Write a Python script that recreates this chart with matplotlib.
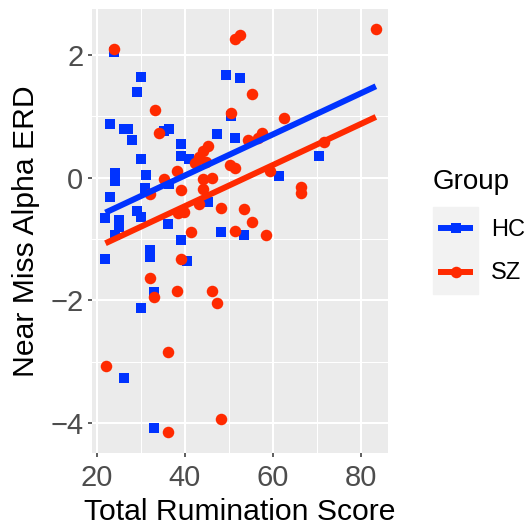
import numpy as np
import matplotlib
matplotlib.use("Agg")
import matplotlib.pyplot as plt
from matplotlib.lines import Line2D
from matplotlib.patches import Rectangle

plt.rcParams['font.family'] = ['Liberation Sans', 'DejaVu Sans']

# healthy controls (HC)
hc_x = [24.0, 30.1, 29.1, 23.1, 26.1, 27.2, 28.1, 35.2, 36.3, 39.2,
        39.1, 41.0, 30.1, 49.3, 52.4, 50.4, 47.3, 51.4, 24.1, 24.1,
        31.2, 36.3, 31.0, 23.1, 29.1, 30.1, 21.9, 25.1, 25.1, 36.1,
        24.1, 39.1, 21.9, 32.1, 32.1, 40.4, 33.1, 30.1, 26.1, 33.1,
        45.3, 48.3, 53.4, 61.4, 70.5]
hc_y = [2.05, 1.64, 1.40, 0.87, 0.79, 0.79, 0.62, 0.76, 0.79, 0.55,
        0.35, 0.31, 0.31, 1.67, 1.62, 1.01, 0.71, 0.64, 0.07, -0.06,
        0.04, -0.11, -0.17, -0.31, -0.55, -0.64, -0.66, -0.69, -0.80, -0.76,
        -0.94, -1.02, -1.32, -1.18, -1.29, -1.36, -1.87, -2.13, -3.27, -4.08,
        -0.40, -0.88, -0.94, 0.02, 0.36]

# schizophrenia (SZ)
sz_x = [24.0, 33.2, 34.2, 51.4, 52.4, 55.3, 50.4, 62.4, 54.4, 57.4,
        56.6, 45.2, 44.2, 43.3, 42.4, 44.9, 50.2, 51.3, 38.2, 35.2,
        39.2, 32.1, 44.2, 46.2, 44.2, 59.4, 43.2, 48.3, 53.3, 55.3,
        41.4, 51.4, 58.5, 38.5, 39.7, 39.1, 32.1, 38.2, 33.1, 46.2,
        47.2, 36.1, 22.1, 36.1, 48.3, 83.3, 71.5, 66.4, 66.4]
sz_y = [2.09, 1.11, 0.73, 2.26, 2.33, 1.36, 1.05, 0.98, 0.61, 0.73,
        0.64, 0.52, 0.43, 0.34, 0.24, 0.25, 0.21, 0.15, 0.11, -0.03,
        -0.20, -0.26, -0.02, -0.01, -0.18, 0.11, -0.43, -0.49, -0.51, -0.73,
        -0.89, -0.87, -0.94, -0.57, -0.56, -1.33, -1.63, -1.85, -1.94, -1.85,
        -2.04, -2.84, -3.07, -4.15, -3.94, 2.42, 0.58, -0.16, -0.25]

# fitted regression lines
fit_x = [22.0, 83.3]
hc_fit = [-0.57, 1.49]
sz_fit = [-1.07, 0.99]

groups = ['HC', 'SZ']
blue = '#0033FF'
red = '#FF2A00'

fig = plt.figure(figsize=(5.27, 5.29), dpi=100)
W, H = 527, 529
ax = fig.add_axes([92/W, 1-453/H, 296/W, 444/H])
ax.set_facecolor('#EBEBEB')
for s in ax.spines.values():
    s.set_visible(False)

ax.scatter(hc_x, hc_y, marker='s', s=7.0**2, color=blue, linewidths=0, zorder=2)
ax.scatter(sz_x, sz_y, marker='o', s=8.3**2, color=red, linewidths=0, zorder=2)
ax.plot(fit_x, hc_fit, color=blue, lw=4.3, solid_capstyle='butt', zorder=3)
ax.plot(fit_x, sz_fit, color=red, lw=4.3, solid_capstyle='butt', zorder=3)

ax.set_xlim(18.95, 86.05)
ax.set_ylim(-4.49, 2.75)
ax.set_xticks([20, 40, 60, 80])
ax.set_xticks([30, 50, 70], minor=True)
ax.set_yticks([-4, -2, 0, 2])
ax.set_yticks([-3, -1, 1], minor=True)
ax.grid(which='major', color='white', lw=1.5)
ax.grid(which='minor', color='white', lw=0.75)
ax.set_axisbelow(True)
ax.tick_params(which='major', length=3.2, width=1.1, color='#333333',
               labelsize=21, labelcolor='#4D4D4D')
ax.tick_params(axis='x', which='major', pad=5)
ax.tick_params(axis='y', which='major', pad=3)
ax.tick_params(which='minor', length=0)

ax.set_xlabel('Total Rumination Score', fontsize=21.7, color='black', labelpad=4)
ax.set_ylabel('Near Miss Alpha ERD', fontsize=21.7, color='black', labelpad=7)

# legend, drawn by hand in figure pixels to match ggplot's layout
fig.text(433/W, 1-189/H, 'Group', fontsize=20, va='baseline', ha='left')
fig.patches.append(Rectangle((433/W, 1-294/H), 45/W, 87/H,
                             transform=fig.transFigure, color='#F2F2F2', zorder=0))
key_y = [228.4, 271.9]
for name, col, mk, ms, ky in zip(groups, [blue, red], ['s', 'o'], [7.0, 8.3], key_y):
    fig.add_artist(Line2D([438/W, 455.5/W, 473/W], [1-ky/H]*3, transform=fig.transFigure,
                          color=col, lw=4.3, solid_capstyle='butt',
                          marker=mk, ms=ms, markevery=[1], mew=0))
    fig.text(491/W, 1-(ky+7.5)/H, name, fontsize=17, va='baseline', ha='left')

fig.savefig('out.png', dpi=100)
